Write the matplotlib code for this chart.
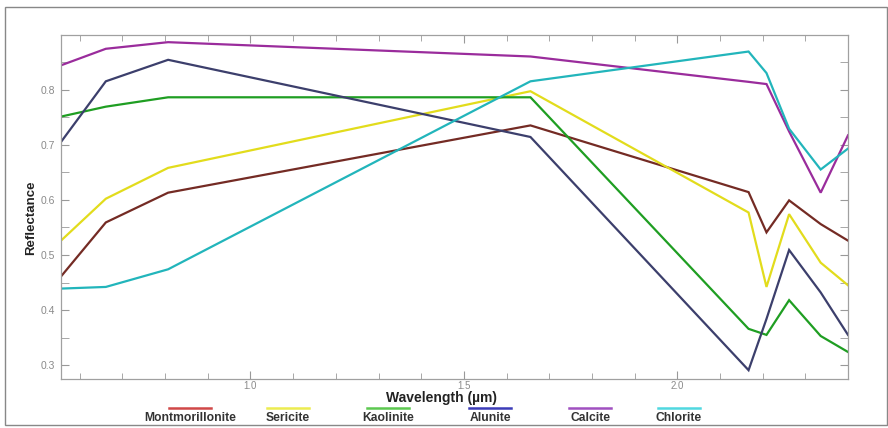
import matplotlib
matplotlib.use("Agg")
import matplotlib.pyplot as plt
from matplotlib.lines import Line2D
from matplotlib.patches import Rectangle
from matplotlib.ticker import MultipleLocator

plt.rcParams["font.family"] = ["Liberation Sans", "DejaVu Sans"]

# ASTER band centres (um)
wavelength = [0.556, 0.661, 0.807, 1.656, 2.167, 2.209, 2.262, 2.336, 2.400]

montmorillonite = [0.461, 0.559, 0.613, 0.735, 0.614, 0.541, 0.599, 0.556, 0.526]
sericite = [0.526, 0.602, 0.658, 0.797, 0.577, 0.442, 0.574, 0.486, 0.445]
kaolinite = [0.751, 0.769, 0.786, 0.786, 0.366, 0.355, 0.418, 0.353, 0.324]
alunite = [0.705, 0.815, 0.854, 0.714, 0.291, 0.384, 0.509, 0.432, 0.355]
calcite = [0.844, 0.874, 0.886, 0.860, 0.814, 0.810, 0.724, 0.613, 0.717]
chlorite = [0.439, 0.442, 0.474, 0.815, 0.869, 0.830, 0.729, 0.655, 0.693]

names = ["Montmorillonite", "Sericite", "Kaolinite", "Alunite", "Calcite", "Chlorite"]
series = [montmorillonite, sericite, kaolinite, alunite, calcite, chlorite]
line_colors = ["#742b24", "#e2dc1c", "#1f9e22", "#3c3f6c", "#9a2c9c", "#22b5bb"]
legend_colors = ["#d04848", "#ecec50", "#5cc850", "#3c3cb8", "#a050c0", "#50d8e0"]

W, H = 888, 428
fig = plt.figure(figsize=(W / 100, H / 100), dpi=100)
ax = fig.add_axes([61 / W, 1 - 379 / H, (848 - 61) / W, (379 - 35) / H])

for name, vals, col in zip(names, series, line_colors):
    ax.plot(wavelength, vals, color=col, lw=1.6, label=name, solid_joinstyle="miter")

ax.set_xlim(0.556, 2.400)
ax.set_ylim(0.275, 0.899)
ax.xaxis.set_major_locator(MultipleLocator(0.5))
ax.xaxis.set_minor_locator(MultipleLocator(0.1))
ax.yaxis.set_major_locator(MultipleLocator(0.1))
ax.yaxis.set_minor_locator(MultipleLocator(0.05))
ax.tick_params(which="both", direction="in", top=True, right=True,
               color="#999999", labelcolor="#8a8a8a", labelsize=7.5)
ax.tick_params(axis="x", pad=1.5, labelsize=7)
ax.tick_params(axis="y", pad=4)
ax.tick_params(which="major", length=6)
ax.tick_params(which="minor", length=4)
ax.tick_params(axis="y", which="minor", length=6)
for sp in ax.spines.values():
    sp.set_color("#a0a0a0")
    sp.set_linewidth(0.9)

fig.text(441 / W, 1 - 398 / H, "Wavelength (\u00b5m)", ha="center", va="center",
         fontsize=10, fontweight="bold", color="#222222")
fig.text(31 / W, 1 - 218 / H, "Reflectance", ha="center", va="center", rotation=90,
         fontsize=9.5, fontweight="bold", color="#222222")

# legend: short line above each label
centers = [190, 288, 388, 490, 590, 679]
for cx, name, col in zip(centers, names, legend_colors):
    fig.add_artist(Line2D([(cx - 21) / W, (cx + 21) / W], [1 - 407.5 / H] * 2,
                          color=col, lw=1.8, transform=fig.transFigure))
    fig.text(cx / W, 1 - 418 / H, name, ha="center", va="center",
             fontsize=8.7, fontweight="bold", color="#333333")

# outer frame
fig.add_artist(Rectangle((5 / W, 3 / H), (887 - 5) / W, (421 - 3) / H,
                         transform=fig.transFigure, fill=False,
                         edgecolor="#888888", lw=1.0))

fig.savefig("out.png", dpi=100)
